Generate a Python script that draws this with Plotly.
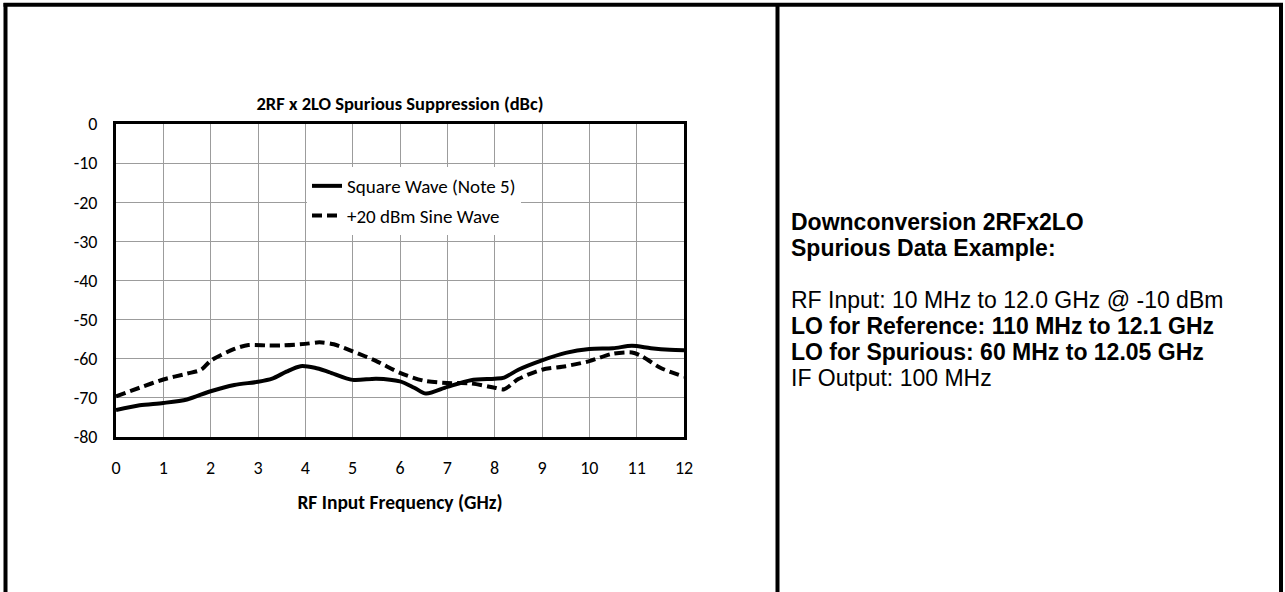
import plotly.graph_objects as go

# Square-wave LO drive: 2RF x 2LO spur level vs RF input frequency
square_freq_ghz = [0, 0.5, 1, 1.5, 2, 2.5, 3, 3.3, 3.6, 3.9, 4.2, 4.5, 5, 5.5, 6,
                   6.3, 6.55, 7, 7.5, 8, 8.2, 8.5, 9, 9.5, 10, 10.5, 10.9, 11.3, 11.7, 12]
square_dbc = [-73.1, -71.9, -71.3, -70.4, -68.3, -66.7, -65.9, -65.1, -63.3, -61.9,
              -62.3, -63.4, -65.4, -65.1, -65.8, -67.4, -68.9, -67.2, -65.5, -65.1,
              -64.8, -62.8, -60.4, -58.5, -57.5, -57.3, -56.7, -57.3, -57.7, -57.8]

# +20 dBm sine-wave LO drive
sine_freq_ghz = [0, 0.5, 1, 1.5, 1.8, 2, 2.5, 2.8, 3.2, 3.5, 4, 4.3, 4.6, 5, 5.5, 6,
                 6.5, 7, 7.5, 8, 8.2, 8.5, 9, 9.5, 10, 10.5, 10.9, 11.1, 11.5, 12]
sine_dbc = [-69.6, -67.4, -65.3, -63.8, -62.8, -60.5, -57.5, -56.5, -56.6, -56.6,
            -56.2, -55.8, -56.3, -58.1, -60.6, -63.6, -65.6, -66.2, -66.3, -67.4,
            -67.8, -65.2, -62.8, -61.9, -60.6, -58.7, -58.4, -59.3, -62.3, -64.6]

series_names = ["Square Wave (Note 5)", "+20 dBm Sine Wave"]
x_ticks = list(range(0, 13))
y_ticks = list(range(0, -90, -10))

chart_title = "2RF x 2LO Spurious Suppression (dBc)"
x_title = "RF Input Frequency (GHz)"

side_lines = [
    ("Downconversion 2RFx2LO", True),
    ("Spurious Data Example:", True),
    ("", False),
    ("RF Input: 10 MHz to 12.0 GHz @ -10 dBm", False),
    ("LO for Reference: 110 MHz to 12.1 GHz", True),
    ("LO for Spurious: 60 MHz to 12.05 GHz", True),
    ("IF Output: 100 MHz", False),
]

# Page geometry (pixels)
W, H = 1285, 592
PL, PR, PT, PB = 116, 684, 124, 437
CHART_FONT = "Calibri, Carlito, Lato, sans-serif"
TEXT_FONT = "Arial, Liberation Sans, sans-serif"


def px_x(px):
    return (px - PL) / (PR - PL)


def px_y(py):
    return (PB - py) / (PB - PT)


fig = go.Figure()
fig.add_trace(go.Scatter(
    x=square_freq_ghz, y=square_dbc, name=series_names[0], mode="lines",
    line=dict(color="black", width=4, shape="spline", smoothing=0.8),
    legendgroup="a",
))
fig.add_trace(go.Scatter(
    x=sine_freq_ghz, y=sine_dbc, name=series_names[1], mode="lines",
    line=dict(color="black", width=4, shape="spline", smoothing=0.8, dash="10px,5px"),
    legendgroup="b",
))

fig.update_layout(
    width=W, height=H,
    margin=dict(l=PL, r=W - PR, t=PT, b=H - PB, pad=0),
    paper_bgcolor="white", plot_bgcolor="white",
    font=dict(family=CHART_FONT, color="black", size=18),
    title=dict(text=f"<b>{chart_title}</b>", x=px_x(400), xref="paper",
               y=1 - 104 / H, yref="container", xanchor="center", yanchor="middle",
               font=dict(size=18.5, family=CHART_FONT, color="black")),
    showlegend=True,
    legend=dict(x=px_x(307), y=px_y(167), xanchor="left", yanchor="top",
                bgcolor="white", borderwidth=0, font=dict(size=19, family=CHART_FONT),
                tracegroupgap=2, traceorder="grouped"),
)

fig.update_xaxes(
    range=[0, 12], tickmode="array", tickvals=x_ticks,
    ticktext=[str(v) for v in x_ticks],
    showgrid=True, gridcolor="#9c9c9c", gridwidth=1.3,
    showline=True, linecolor="black", linewidth=3, mirror=True,
    ticks="", ticklabelstandoff=12, zeroline=False,
    tickfont=dict(size=18, family=CHART_FONT),
    title=dict(text=f"<b>{x_title}</b>", standoff=18,
               font=dict(size=19.5, family=CHART_FONT)),
)
fig.update_yaxes(
    range=[-80, 0], tickmode="array", tickvals=y_ticks,
    ticktext=[str(v) for v in y_ticks],
    showgrid=True, gridcolor="#9c9c9c", gridwidth=1.3,
    showline=True, linecolor="black", linewidth=3, mirror=True,
    ticks="", ticklabelstandoff=12, zeroline=False,
    tickfont=dict(size=18, family=CHART_FONT),
)

# Page frame and column divider
frame = dict(type="line", xref="paper", yref="paper", line=dict(color="black", width=4), layer="above")
fig.add_shape(**frame, x0=px_x(3.5), x1=px_x(1283), y0=px_y(4.7), y1=px_y(4.7))
fig.add_shape(**frame, x0=px_x(5.5), x1=px_x(5.5), y0=px_y(3), y1=px_y(600))
fig.add_shape(**frame, x0=px_x(1281), x1=px_x(1281), y0=px_y(3), y1=px_y(600))
fig.add_shape(**frame, x0=px_x(777.5), x1=px_x(777.5), y0=px_y(3), y1=px_y(600))

# Description text in the right-hand column, one line per annotation
first_line_y, line_step = 222, 26
for i, (txt, bold) in enumerate(side_lines):
    if not txt:
        continue
    fig.add_annotation(
        text=f"<b>{txt}</b>" if bold else txt,
        x=px_x(789), y=px_y(first_line_y + i * line_step), xref="paper", yref="paper",
        xanchor="left", yanchor="middle", showarrow=False,
        font=dict(family=TEXT_FONT, size=23, color="black"),
    )

fig.write_html("out.html")
